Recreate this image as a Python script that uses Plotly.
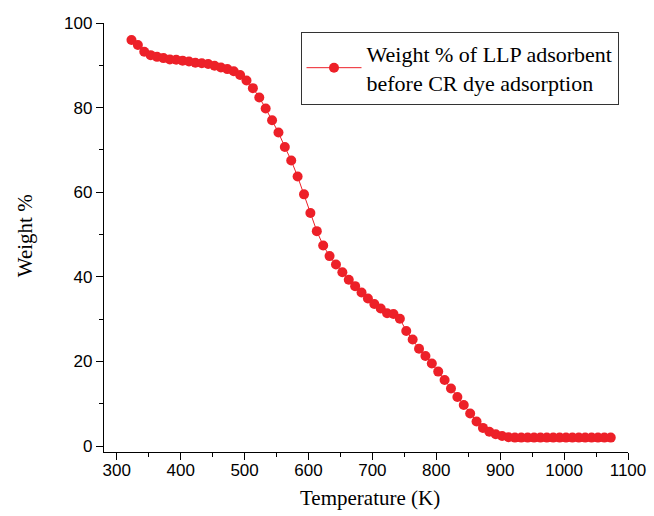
import plotly.graph_objects as go

temperature_k = [323 + 10 * i for i in range(76)]
weight_pct = [
    96.0, 94.8, 93.2, 92.4, 92.0, 91.7, 91.4, 91.3, 91.1, 90.9,
    90.6, 90.5, 90.3, 89.9, 89.5, 89.1, 88.6, 87.7, 86.4, 84.6,
    82.4, 79.8, 77.0, 74.1, 70.7, 67.5, 63.7, 59.5, 55.1, 50.8,
    47.4, 44.9, 42.9, 41.1, 39.3, 37.8, 36.3, 34.9, 33.6, 32.5,
    31.4, 31.2, 30.1, 27.2, 25.2, 23.0, 21.3, 19.5, 17.6, 15.6,
    13.6, 11.6, 9.7, 7.7, 5.8, 4.3, 3.4, 2.8, 2.4, 2.1,
    2.0, 2.0, 2.0, 2.0, 2.0, 2.0, 2.0, 2.0, 2.0, 2.0,
    2.0, 2.0, 2.0, 2.0, 2.0, 2.0,
]
series_name = "Weight % of LLP adsorbent<br>before CR dye adsorption"
x_ticks = [300, 400, 500, 600, 700, 800, 900, 1000, 1100]
y_ticks = [0, 20, 40, 60, 80, 100]
x_title = "Temperature (K)"
y_title = "Weight %"

red = "#ED2028"
serif = "Liberation Serif, Times New Roman, serif"

fig = go.Figure()
fig.add_trace(go.Scatter(
    x=temperature_k, y=weight_pct, mode="lines+markers", name=series_name,
    line=dict(color=red, width=1),
    marker=dict(color=red, size=10, line=dict(width=0)),
))

axis_common = dict(
    showline=True, linecolor="black", linewidth=1.3, mirror=False,
    ticks="outside", ticklen=7, tickwidth=1.3, tickcolor="black",
    showgrid=False, zeroline=False, automargin=False,
    tickfont=dict(family="Liberation Sans, Arial", size=17, color="black"),
)

fig.update_xaxes(
    range=[280, 1100], tickvals=x_ticks, ticklabelstandoff=-5,
    minor=dict(dtick=50, tick0=0, ticks="outside", ticklen=4, tickwidth=1.3, tickcolor="black", showgrid=False),
    **axis_common,
)
fig.update_yaxes(
    range=[-1.4, 100], tickvals=y_ticks,
    minor=dict(dtick=10, tick0=0, ticks="outside", ticklen=4, tickwidth=1.3, tickcolor="black", showgrid=False),
    **axis_common,
)

fig.add_annotation(
    text=x_title, xref="paper", yref="paper", x=0.508, y=-0.108,
    xanchor="center", yanchor="middle", showarrow=False,
    font=dict(family=serif, size=21, color="black"),
)
fig.add_annotation(
    text=y_title, xref="paper", yref="paper", x=-0.151, y=0.505,
    xanchor="center", yanchor="middle", showarrow=False, textangle=-90,
    font=dict(family=serif, size=21, color="black"),
)

fig.update_layout(
    width=654, height=516,
    margin=dict(l=104, r=26, t=23, b=64),
    plot_bgcolor="white", paper_bgcolor="white",
    showlegend=True,
    legend=dict(
        x=0.375, y=0.98, xanchor="left", yanchor="top",
        bgcolor="white", bordercolor="#333333", borderwidth=1,
        font=dict(family=serif, size=22, color="black"),
        itemwidth=55, tracegroupgap=0,
    ),
)

fig.write_html("out.html")
